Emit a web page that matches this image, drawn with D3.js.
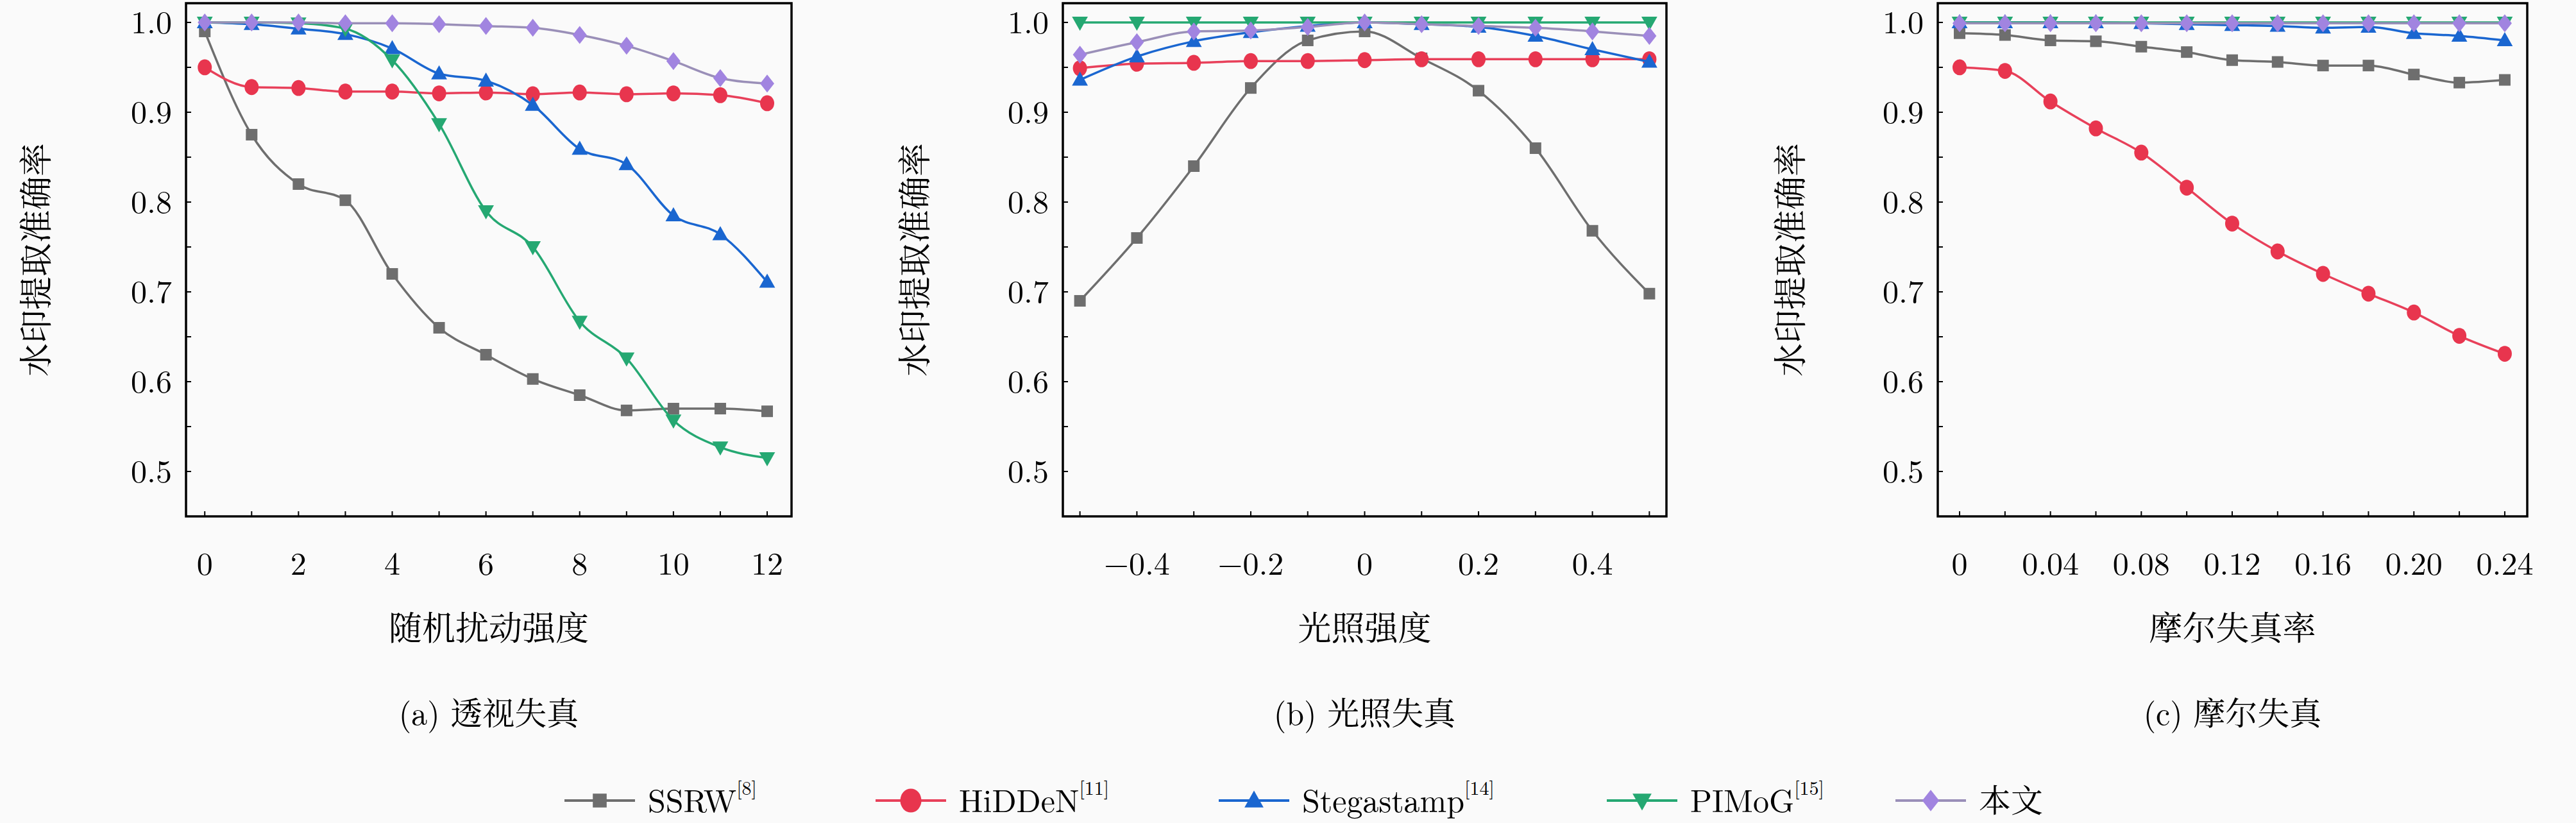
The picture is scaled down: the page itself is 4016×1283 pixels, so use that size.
<!DOCTYPE html>
<html><head><meta charset="utf-8">
<script src="https://cdn.jsdelivr.net/npm/d3@7"></script>
<style>body{margin:0;background:#fafafa}svg{display:block}</style>
</head><body>
<svg id="chart" width="4016" height="1283"></svg>
<script>
const seriesNames = ["SSRW", "HiDDeN", "Stegastamp", "PIMoG", "本文"]
const seriesRefs = ["[8]", "[11]", "[14]", "[15]", ""]
const colors = ["#6e6e6e", "#e8354e", "#1a66d0", "#25a872", "#a184e0"]
const lineColors = ["#6e6e6e", "#e8405a", "#1a66d0", "#25a872", "#9a8fb8"]
const symbols = ["square", "circle", "up", "down", "diamond"]

const xPerspective = [0,1,2,3,4,5,6,7,8,9,10,11,12]
const perspective = [
  [.99,.875,.82,.802,.72,.66,.63,.603,.585,.568,.57,.57,.567],
  [.95,.928,.927,.923,.923,.921,.922,.92,.922,.92,.921,.919,.91],
  [1.0,.998,.993,.987,.971,.943,.935,.908,.859,.842,.785,.764,.711],
  [1.0,1.0,.999,.993,.958,.887,.79,.75,.667,.626,.557,.527,.515],
  [1.0,1.0,1.0,.999,.999,.998,.996,.994,.986,.974,.957,.938,.932]
]
const xLight = [-.5,-.4,-.3,-.2,-.1,0,.1,.2,.3,.4,.5]
const light = [
  [.69,.76,.84,.927,.98,.99,.96,.924,.86,.768,.698],
  [.949,.954,.955,.957,.957,.958,.959,.959,.959,.959,.959],
  [.936,.962,.979,.989,.996,1.0,.998,.995,.985,.97,.956],
  [1,1,1,1,1,1,1,1,1,1,1],
  [.964,.978,.99,.991,.995,1.0,.998,.996,.994,.99,.985]
]
const xMoire = [0,.02,.04,.06,.08,.10,.12,.14,.16,.18,.20,.22,.24]
const moire = [
  [.988,.986,.98,.979,.973,.967,.958,.956,.952,.952,.942,.933,.936],
  [.95,.946,.912,.882,.855,.816,.776,.745,.72,.698,.677,.651,.631],
  [1,1,1,1,.999,.998,.997,.996,.994,.995,.988,.985,.98],
  [1,1,1,1,1,1,1,1,1,1,1,1,1],
  [.999,.999,.999,.999,.999,.999,.999,.999,.999,.999,.999,.999,.999]
]
const yTicks = [0.5,0.6,0.7,0.8,0.9,1.0]

const panels = [
  {left:290, right:1234, xdom:[-0.4,12.52], xs:xPerspective, data:perspective,
   ticks:xPerspective, labels:[0,2,4,6,8,10,12], fmt:d=>d, xtitle:"随机扰动强度", cap:"(a) 透视失真", yx:75},
  {left:1657, right:2598, xdom:[-0.53,0.53], xs:xLight, data:light,
   ticks:xLight, labels:[-.4,-.2,0,.2,.4], fmt:d=>d===0?"0":(d<0?"−":"")+Math.abs(d).toFixed(1), xtitle:"光照强度", cap:"(b) 光照失真", yx:1445},
  {left:3021, right:3940, xdom:[-0.0096,0.2499], xs:xMoire, data:moire,
   ticks:xMoire, labels:[0,.04,.08,.12,.16,.20,.24], fmt:d=>d===0?"0":d.toFixed(2), xtitle:"摩尔失真率", cap:"(c) 摩尔失真", yx:2810}
]

const svg = d3.select("#chart")
const plotTop = 5, plotBottom = 805
const y = d3.scaleLinear().domain([0.45, 1.0214]).range([plotBottom, plotTop])
const serif = "'Latin Modern Roman','DejaVu Serif','Liberation Serif',serif"
const cjk = "'Noto Serif CJK SC','Noto Sans CJK SC',serif"

const drawMarker = (g, type, cx, cy, color, s) => {
  if (type === "square") g.append("rect").attr("x", cx-s*0.45).attr("y", cy-s*0.45).attr("width", s*0.9).attr("height", s*0.9).attr("fill", color)
  else if (type === "circle") g.append("ellipse").attr("cx", cx).attr("cy", cy).attr("rx", s*0.55).attr("ry", s*0.62).attr("fill", color)
  else if (type === "up") g.append("path").attr("d", `M${cx},${cy-s*0.65}L${cx+s*0.62},${cy+s*0.45}L${cx-s*0.62},${cy+s*0.45}Z`).attr("fill", color)
  else if (type === "down") g.append("path").attr("d", `M${cx},${cy+s*0.65}L${cx+s*0.62},${cy-s*0.45}L${cx-s*0.62},${cy-s*0.45}Z`).attr("fill", color)
  else g.append("path").attr("d", `M${cx},${cy-s*0.7}L${cx+s*0.55},${cy}L${cx},${cy+s*0.7}L${cx-s*0.55},${cy}Z`).attr("fill", color)
}

panels.forEach(p => {
  const x = d3.scaleLinear().domain(p.xdom).range([p.left, p.right])
  const g = svg.append("g")

  // y ticks (major + minor), inward
  d3.range(0.5, 1.001, 0.05).forEach(t => {
    g.append("line").attr("x1", p.left).attr("x2", p.left+8).attr("y1", y(t)).attr("y2", y(t)).attr("stroke", "#000").attr("stroke-width", 2)
  })
  yTicks.forEach(t => {
    g.append("text").attr("x", p.left-22).attr("y", y(t)).attr("dy", "0.35em").attr("text-anchor", "end")
      .attr("font-family", serif).attr("font-size", 50).text(t.toFixed(1))
  })
  p.ticks.forEach(t => {
    g.append("line").attr("x1", x(t)).attr("x2", x(t)).attr("y1", plotBottom).attr("y2", plotBottom-8).attr("stroke", "#000").attr("stroke-width", 2)
  })
  p.labels.forEach(t => {
    g.append("text").attr("x", x(t)).attr("y", 896).attr("text-anchor", "middle")
      .attr("font-family", serif).attr("font-size", 50).text(p.fmt(t))
  })

  const line = d3.line().x((d, i) => x(p.xs[i])).y(d => y(d)).curve(d3.curveMonotoneX)
  p.data.forEach((vals, si) => {
    g.append("path").attr("d", line(vals)).attr("fill", "none").attr("stroke", lineColors[si]).attr("stroke-width", 3.5)
    vals.forEach((v, i) => drawMarker(g, symbols[si], x(p.xs[i]), y(v), colors[si], 20))
  })

  g.append("rect").attr("x", p.left).attr("y", plotTop).attr("width", p.right-p.left).attr("height", plotBottom-plotTop)
    .attr("fill", "none").attr("stroke", "#000").attr("stroke-width", 3.5)

  g.append("text").attr("transform", `translate(${p.yx},${(plotTop+plotBottom)/2}) rotate(-90)`).attr("text-anchor", "middle")
    .attr("font-family", cjk).attr("font-size", 52).text("水印提取准确率")
  g.append("text").attr("x", (p.left+p.right)/2).attr("y", 998).attr("text-anchor", "middle")
    .attr("font-family", cjk).attr("font-size", 52).text(p.xtitle)
  const cap = g.append("text").attr("x", (p.left+p.right)/2).attr("y", 1130).attr("text-anchor", "middle")
    .attr("font-family", serif).attr("font-size", 50)
  const parts = p.cap.split(" ")
  cap.append("tspan").text(parts[0] + " ")
  cap.append("tspan").attr("font-family", cjk).text(parts[1])
})

// legend
const legendX = [880, 1365, 1900, 2505, 2955]
const ly = 1248
seriesNames.forEach((name, i) => {
  const lx = legendX[i]
  svg.append("line").attr("x1", lx).attr("x2", lx+110).attr("y1", ly).attr("y2", ly).attr("stroke", lineColors[i]).attr("stroke-width", 4)
  drawMarker(svg, symbols[i], lx+55, ly, colors[i], i === 1 ? 30 : 24)
  const t = svg.append("text").attr("x", lx+130).attr("y", ly).attr("dy", "0.35em")
    .attr("font-family", i === 4 ? cjk : serif).attr("font-size", 50).text(name)
  if (seriesRefs[i]) t.append("tspan").attr("font-size", 30).attr("dy", "-0.9em").text(seriesRefs[i])
})
</script>
</body></html>
